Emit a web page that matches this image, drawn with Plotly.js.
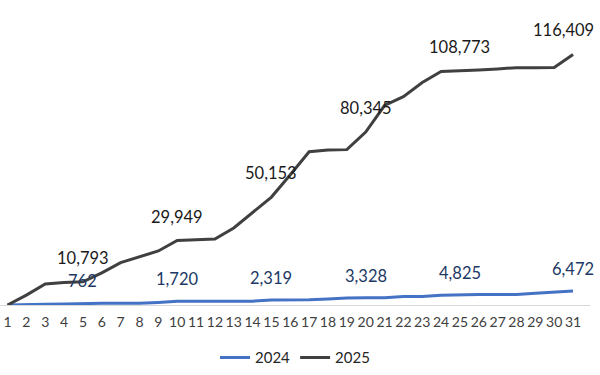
<!DOCTYPE html>
<html><head><meta charset="utf-8">
<script src="https://cdn.plot.ly/plotly-3.0.1.min.js"></script>
<style>html,body{margin:0;padding:0;background:#fff}#chart{width:600px;height:375px}</style>
</head><body><div id="chart"></div>
<script>
const days = [1,2,3,4,5,6,7,8,9,10,11,12,13,14,15,16,17,18,19,20,21,22,23,24,25,26,27,28,29,30,31];
const values2024 = [0,300,400,500,762,780,790,800,1200,1720,1740,1760,1780,1800,2319,2350,2400,2800,3300,3328,3400,3900,4000,4500,4825,4850,4870,4900,5500,6000,6472];
const values2025 = [0,4600,9800,10500,10793,14900,19700,22500,25100,29949,30300,30700,35800,42800,50153,60500,71200,72000,72200,80345,92700,96800,103400,108500,108773,109200,109700,110300,110300,110400,116409];
const labelDays = [5,10,15,20,25,31];
const seriesNames = ['2024','2025'];

const font = 'Lato, "Open Sans", sans-serif';
const annotations = [];
labelDays.forEach(d => {
  const i = days.indexOf(d);
  annotations.push({x:d, y:values2024[i], xref:'x', yref:'y', text:values2024[i].toLocaleString('en-US'),
    showarrow:false, yshift:22, font:{family:font,size:16.5,color:'#203864'}});
  annotations.push({x:d, y:values2025[i], xref:'x', yref:'y', text:values2025[i].toLocaleString('en-US'),
    showarrow:false, yshift:24, xshift:(d===31?-10:0), font:{family:font,size:16.5,color:'#1a1a1a'}});
});

const data = [
  {x:days, y:values2024, name:seriesNames[0], mode:'lines', line:{color:'#4472C4', width:3}, hoverinfo:'skip'},
  {x:days, y:values2025, name:seriesNames[1], mode:'lines', line:{color:'#404040', width:3}, hoverinfo:'skip'}
];
const layout = {
  width:600, height:375,
  margin:{l:0, r:10, t:36, b:70, autoexpand:false},
  paper_bgcolor:'#fff', plot_bgcolor:'#fff',
  font:{family:font, color:'#404040'},
  xaxis:{range:[0.6,31.9], tickmode:'array', tickvals:days, ticktext:days.map(String), automargin:false,
    showgrid:false, zeroline:false, showline:true, linecolor:'#d9d9d9', linewidth:1,
    ticks:'', ticklabelstandoff:4, tickfont:{family:font,size:14,color:'#404040'}, fixedrange:true},
  yaxis:{range:[0,125000], visible:false, fixedrange:true, automargin:false},
  showlegend:true,
  legend:{orientation:'h', x:0.5, xanchor:'center', y:-0.135, yanchor:'top',
    font:{family:font,size:15,color:'#262626'}},
  annotations:annotations
};
Plotly.newPlot('chart', data, layout, {displayModeBar:false, staticPlot:true});
</script></body></html>
